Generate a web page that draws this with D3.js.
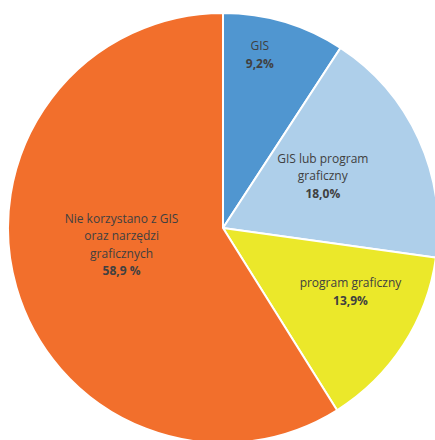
<!DOCTYPE html>
<html>
<head>
<meta charset="utf-8">
<script src="https://cdn.jsdelivr.net/npm/d3@7"></script>
<style>
body{margin:0;background:#fff;}
svg{display:block;}
</style>
</head>
<body>
<div id="chart"></div>
<script>
// data
const categories=["GIS","GIS lub program graficzny","program graficzny","Nie korzystano z GIS oraz narzędzi graficznych"];
const values=[9.2,18.0,13.9,58.9];
const labelLines=[["GIS"],["GIS lub program","graficzny"],["program graficzny"],["Nie korzystano z GIS","oraz narzędzi","graficznych"]];
const valueLabels=["9,2%","18,0%","13,9%","58,9 %"];
const colors=["#5096d0","#aecfea","#ebe82a","#f26f2c"];
// label placement: radius, angle shift (deg)
const labelR=[176,112,143,103];
const labelShift=[-4.5,-2.5,-6,6];

const w=435,h=440;
const cx=223,cy=228,R=215;

const svg=d3.select("#chart").append("svg")
    .attr("width",w)
    .attr("height",h);

const g=svg.append("g").attr("transform","translate("+cx+","+cy+")");

const pie=d3.pie().sort(null).value(d=>d);
const arcs=pie(values);
const arc=d3.arc().innerRadius(0).outerRadius(R);

g.selectAll("path.slice")
    .data(arcs)
    .enter().append("path")
    .attr("class","slice")
    .attr("d",arc)
    .attr("fill",(d,i)=>colors[i])
    .attr("stroke","#fff")
    .attr("stroke-width",2);

const lineH=17.5;
arcs.forEach(function(d,i){
    const mid=(d.startAngle+d.endAngle)/2+labelShift[i]*Math.PI/180;
    const x=labelR[i]*Math.sin(mid);
    const y=-labelR[i]*Math.cos(mid);
    const lines=labelLines[i];
    const n=lines.length+1;
    const t=g.append("text")
        .attr("x",x)
        .attr("y",y-(n-1)*lineH/2)
        .attr("text-anchor","middle")
        .attr("dominant-baseline","middle")
        .style("font-family","'Open Sans', sans-serif")
        .style("font-size","12px")
        .style("fill","#404040");
    lines.forEach(function(l,j){
        t.append("tspan").attr("x",x).attr("dy",j==0?0:lineH).text(l);
    });
    t.append("tspan").attr("x",x).attr("dy",lineH)
        .style("font-weight","bold")
        .text(valueLabels[i]);
});
</script>
</body>
</html>
